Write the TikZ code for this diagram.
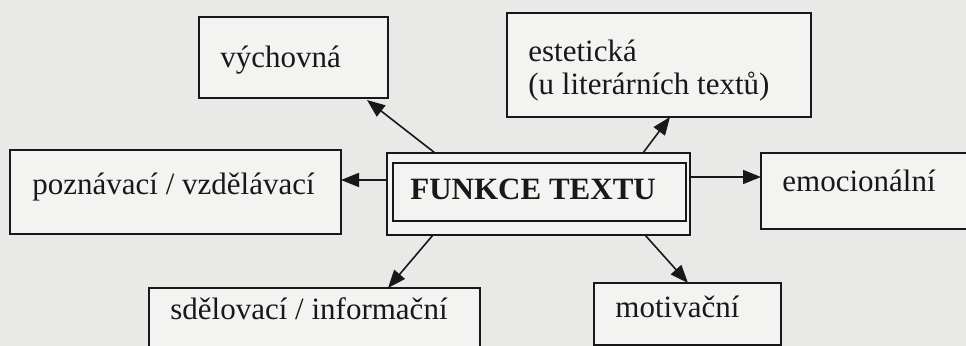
\documentclass[tikz,border=0pt]{standalone}
\usepackage{fontspec}
\setmainfont{Liberation Serif}
\usetikzlibrary{arrows.meta,calc}
\definecolor{paper}{RGB}{233,233,231}
\definecolor{boxfill}{RGB}{243,243,241}
\definecolor{ink}{RGB}{24,24,24}
\tikzset{
  fbox/.style={draw=ink, fill=boxfill, line width=1.2pt, inner sep=0pt, outer sep=0pt},
  lbl/.style={anchor=base west, inner sep=0pt, text=ink, font=\fontsize{15.5pt}{18pt}\selectfont},
  conn/.style={draw=ink, line width=0.8pt, -{Triangle[length=9pt,width=7pt]}}
}
\begin{document}
\begin{tikzpicture}[x=0.5pt,y=-0.5pt]
  \fill[paper] (0,0) rectangle (966,346);
  \useasboundingbox (0,0) rectangle (966,346);

  % boxes
  \node[fbox, minimum width=94.5pt, minimum height=40.5pt] (vych) at (293.5,57.5) {};
  \node[fbox, minimum width=152pt, minimum height=52pt] (est) at (659,65) {};
  \node[fbox, minimum width=165.5pt, minimum height=42pt] (pozn) at (175.5,192) {};
  \node[fbox, minimum width=151.5pt, minimum height=41pt] (fn) at (538.5,194) {};
  \node[fbox, line width=1pt, minimum width=146.5pt, minimum height=29pt] (fnin) at (539.5,192) {};
  \node[fbox, minimum width=125pt, minimum height=38pt] (emo) at (886,191) {};
  \node[fbox, minimum width=165.5pt, minimum height=40pt] (sdel) at (314.5,328) {};
  \node[fbox, minimum width=93.5pt, minimum height=31pt] (mot) at (687.5,314) {};

  % labels
  \node[lbl] (vychT) at (220,68) {výchovná};
  \node[lbl] (estT) at (528,62) {estetická};
  \node[lbl] (estT2) at (528,95) {(u literárních textů)};
  \node[lbl] (poznT) at (32,195) {poznávací / vzdělávací};
  \node[lbl, font=\fontsize{15.5pt}{18pt}\selectfont\bfseries] (fnT) at (410,200) {FUNKCE TEXTU};
  \node[lbl] (emoT) at (782,192) {emocionální};
  \node[lbl] (sdelT) at (170,320) {sdělovací / informační};
  \node[lbl] (motT) at (615,318) {motivační};

  % connectors
  \draw[conn] ($(fn.north west)+(48,0)$) -- ($(vych.south west)+(168,2)$);
  \draw[conn] ($(fn.north west)+(256,0)$) -- ($(est.south west)+(163,0)$);
  \draw[conn] ($(fn.west)+(0,-14)$) -- ($(pozn.east)+(0,-12)$);
  \draw[conn] ($(fn.east)+(0,-17)$) -- ($(emo.west)+(0,-14)$);
  \draw[conn] ($(fn.south west)+(46,0)$) -- ($(sdel.north west)+(239,0)$);
  \draw[conn] ($(fn.south west)+(258,0)$) -- ($(mot.north west)+(94,0)$);
\end{tikzpicture}
\end{document}
